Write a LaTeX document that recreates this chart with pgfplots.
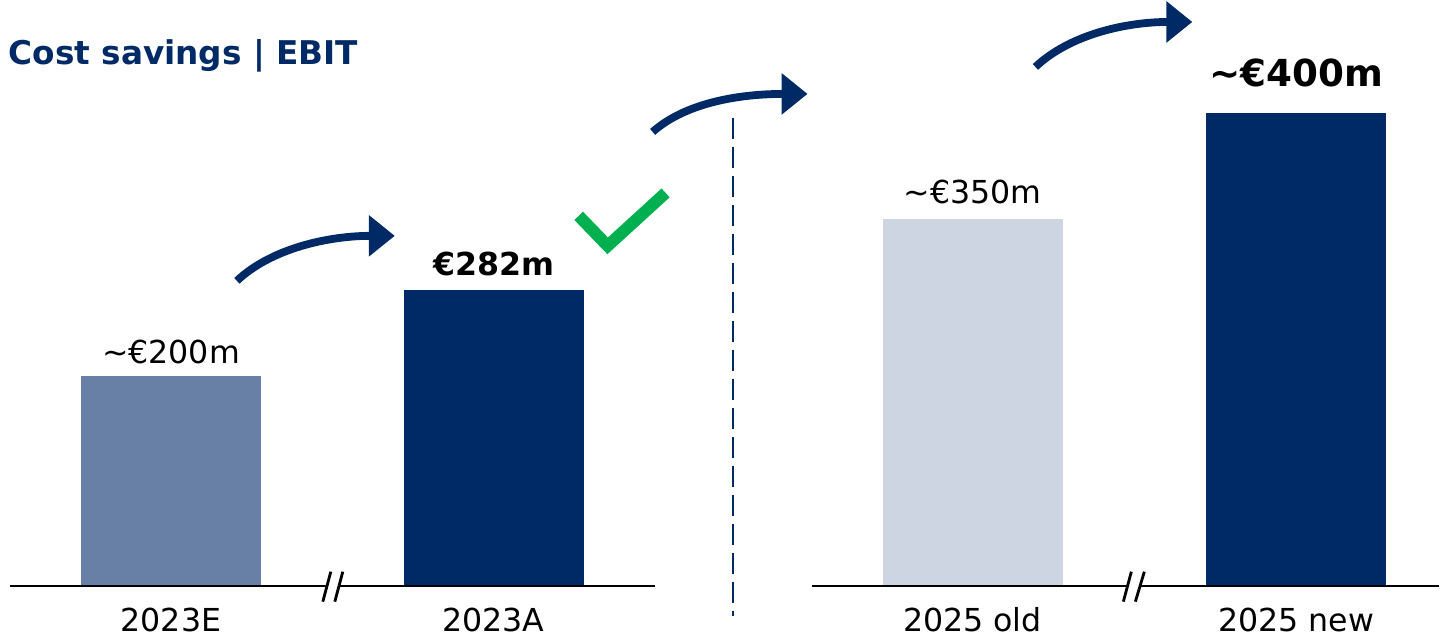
\documentclass[border=0pt]{standalone}
\usepackage{fontspec}
\setmainfont{DejaVu Sans}
\usepackage{pgfplots}
\pgfplotsset{compat=1.18}
\usetikzlibrary{arrows.meta}
\definecolor{navy}{HTML}{002A66}
\definecolor{midblue}{HTML}{6880A6}
\definecolor{paleblue}{HTML}{CDD5E3}
\definecolor{okgreen}{HTML}{00B050}

\begin{document}
\begin{tikzpicture}
\begin{axis}[
    name=ax,
    scale only axis,
    width=14.45cm, height=6.39cm,
    xmin=0, xmax=1445, ymin=-50.5, ymax=558.7,
    axis lines=middle, axis line style={draw=none},
    ytick=\empty,
    xtick={171,493.5,972.5,1296},
    xticklabels={2023E,2023A,2025 old,2025 new},
    major tick length=0pt,
    xticklabel style={font=\fontsize{9}{11}\selectfont, anchor=base, yshift=-13pt},
    ybar, bar width=1.8cm, bar shift=0pt,
    clip=false,
    nodes near coords, point meta=explicit symbolic,
    every node near coord/.append style={anchor=base, inner sep=0pt, font=\fontsize{9}{11}\selectfont},
  ]
  % bar heights as drawn (the 2025 new bar is drawn taller than its ~400 label)
  \addplot[fill=midblue, draw=none, every node near coord/.append style={yshift=3.7pt}]
    coordinates {(171,200) [{\textasciitilde}€200m]};
  \addplot[fill=navy, draw=none, every node near coord/.append style={yshift=4.3pt, font=\fontsize{9}{11}\selectfont\bfseries}]
    coordinates {(493.5,282) [€282m]};
  \addplot[fill=paleblue, draw=none, every node near coord/.append style={yshift=4.5pt}]
    coordinates {(972.5,350) [{\textasciitilde}€350m]};
  \addplot[fill=navy, draw=none, every node near coord/.append style={yshift=7.4pt, font=\fontsize{10.6}{12}\selectfont\bfseries}]
    coordinates {(1296,451) [{\textasciitilde}€400m]};
\end{axis}

% decorations, in pixels from the top left corner
\begin{scope}[shift={(ax.north west)}, x=0.01cm, y=-0.01cm]
  \node[anchor=base west, inner sep=0pt, text=navy, font=\fontsize{9.3}{11}\selectfont\bfseries]
    at (8,65) {Cost savings | EBIT};
  \draw[line width=0.6pt] (10,586)--(655,586) (812,586)--(1440,586);
  \draw[white, line width=2pt] (327,586)--(339,586) (1128,586)--(1140,586);
  \draw[line width=0.8pt] (323,602)--(331,572) (335,602)--(343,572)
    (1124,602)--(1132,572) (1136,602)--(1145,572);
  \draw[navy, line width=0.6pt, dash pattern=on 0.21cm off 0.08cm] (733,118)--(733,616);
  \draw[navy, line width=0.078cm, -{Triangle[length=0.26cm, width=0.40cm]}]
    (237,281) .. controls (272,248) and (330,236) .. (395,236);
  \draw[navy, line width=0.078cm, -{Triangle[length=0.26cm, width=0.40cm]}]
    (653,132) .. controls (688,101) and (745,94) .. (808,94);
  \draw[navy, line width=0.078cm, -{Triangle[length=0.26cm, width=0.40cm]}]
    (1036,67) .. controls (1071,34) and (1128,22) .. (1193,22);
  \draw[okgreen, line width=0.12cm, line join=miter] (579,216)--(608,246)--(666,193);
\end{scope}
\pgfresetboundingbox
\path[use as bounding box] (ax.south west) rectangle (ax.north east);
\end{tikzpicture}
\end{document}
